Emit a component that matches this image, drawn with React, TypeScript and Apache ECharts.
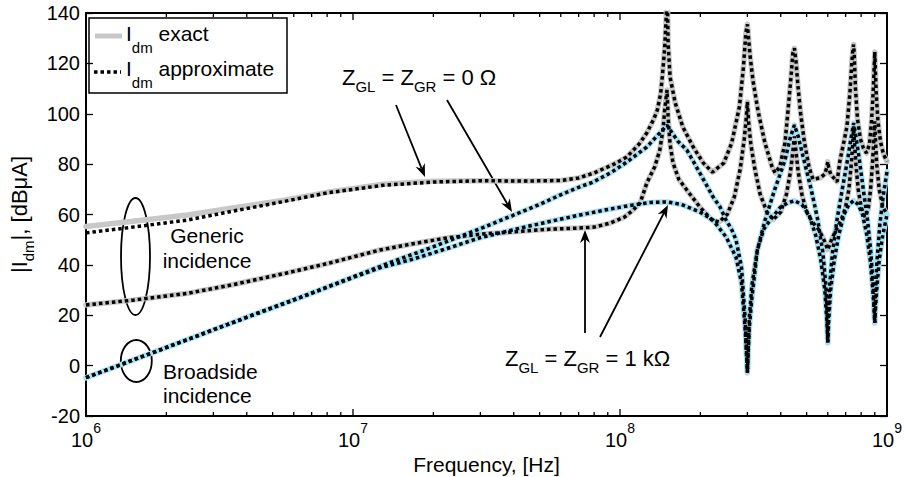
import React, { useEffect, useRef } from "react";
import * as echarts from "echarts";

const FONT = '"Liberation Sans", Arial, Helvetica, sans-serif';

// Frequency in MHz, level in dBµA
const genericZ0Exact: [number, number][] = [
  [1, 55.2], [1.5, 57.3], [2.4, 59.8], [3.5, 62.5], [5.6, 65.8], [8, 68.8], [13, 72.0], [20, 73.2],
  [30, 73.4], [45, 73.3], [60, 73.5], [70, 74.5], [80, 76.5], [95, 80], [106, 82.8], [118, 88],
  [126, 92.4], [134, 98], [138, 101.5], [142, 108], [144, 114.6], [147, 126], [149.2, 140], [150, 150],
  [150.8, 140], [151.4, 128], [154, 114.6], [161, 104.3], [172, 94.7], [188, 86.8], [205, 80.5], [222, 76.8],
  [245, 80.5], [262, 88.4], [280, 102.7], [290, 118.6], [296, 132], [300, 135.5], [303, 130], [307, 123],
  [315, 113], [329, 101], [349, 88.4], [371, 79], [381, 76.5], [397, 79], [415, 88.4], [426, 101.5],
  [437, 114.6], [444, 124], [450, 126], [456, 121], [463, 112], [475, 100], [490, 89], [510, 79],
  [528, 74], [560, 74.5], [585, 76], [596, 79], [600, 81], [604, 79], [615, 76], [650, 73],
  [667, 81.6], [690, 89], [708, 95], [726, 108], [739, 121], [746, 126], [750, 127.5], [754, 123],
  [762, 110], [775, 98], [795, 90], [815, 86.5], [838, 84.4], [860, 88], [875, 97], [887, 108],
  [895, 118], [900, 124.5], [904, 118], [911, 108], [925, 97], [945, 89], [970, 84], [1000, 81],
];

// Approximation for the generic, 0 ohm case below 30 MHz (it joins the exact curve above)
const genericZ0ApproxLow: [number, number][] = [
  [1, 52.7], [1.5, 55], [2.4, 57.8], [3.5, 61.2], [5.6, 65.3], [8, 68.6], [13, 71.6], [20, 72.9],
];

const genericZ1kExact: [number, number][] = [
  [1, 24.1], [1.5, 26], [2.4, 28.7], [3.5, 32], [5.6, 36.7], [8, 40.5], [12.6, 45.9], [17, 48.5],
  [22.5, 50.7], [30, 52.2], [40, 53.1], [55, 54.2], [70, 54.6], [80, 55], [92, 56.6], [104, 59],
  [112, 61.8], [119, 64.6], [126, 72.5], [135, 79], [141, 85.6], [145, 94], [147, 101.5], [150, 109.4],
  [151.5, 98], [154, 88], [158, 80.5], [166, 74], [178, 69.7], [199, 63], [221, 57.8], [235, 57],
  [252, 60], [268, 67], [282, 78], [292, 90], [297, 98], [300, 104.7], [303, 97], [309, 88],
  [320, 78], [335, 68], [355, 61], [375, 58], [400, 61], [420, 68], [435, 77], [444, 85],
  [450, 91], [456, 85], [465, 77], [480, 68], [500, 61], [525, 57], [555, 54], [580, 50],
  [600, 46], [620, 50], [645, 54], [675, 58], [700, 63], [720, 70], [735, 80], [745, 89],
  [750, 95], [755, 89], [765, 80], [780, 70], [800, 63], [825, 59], [850, 62], [868, 70],
  [882, 80], [893, 90], [900, 97], [905, 90], [915, 80], [935, 70], [965, 63], [1000, 60],
];

const broadZ0Exact: [number, number][] = [
  [1, -4.8], [2, 7.2], [4, 19.2], [6.33, 27], [10, 35.2], [13.3, 40.3], [20, 47.2], [30, 54.4],
  [39.4, 59.5], [50, 64], [59.6, 67.7], [70.8, 71], [79, 72.8], [92, 76.5], [106, 80.8], [126, 86.8],
  [141, 92.4], [150, 95.5], [154, 93.6], [165, 89], [178, 85.6], [199, 76.5], [223, 67], [237, 63],
  [249, 58], [262, 54], [272, 49.9], [285, 39.2], [294, 19.3], [300, -2.9], [305, 19], [312, 32],
  [327, 46], [350, 58], [380, 70], [415, 81.6], [435, 90.8], [450, 95.5], [465, 91], [485, 83],
  [520, 70], [550, 58], [575, 45], [590, 32], [597, 20], [600, 9.4], [603, 20], [610, 32],
  [625, 45], [650, 58], [680, 70], [715, 83], [735, 91], [750, 96.3], [765, 91], [785, 83],
  [815, 70], [845, 58], [870, 45], [888, 32], [896, 22], [900, 17], [904, 25], [915, 40],
  [940, 56], [970, 68], [1000, 77],
];

const broadZ1kExact: [number, number][] = [
  [1, -4.8], [2, 7.2], [4, 19.2], [6.33, 27], [10, 35], [12.6, 38.8], [16.8, 42.3], [22.5, 46.5],
  [30, 50.8], [40, 54], [55, 57.3], [70.8, 59.8], [90, 62], [112, 63.8], [130, 64.8], [150, 65],
  [170, 64], [199, 61], [223, 57.8], [250, 51], [272, 43], [285, 33], [294, 15], [300, -2.5],
  [305, 15], [312, 27], [327, 46], [345, 54], [366, 58], [400, 63], [423, 64.5], [450, 65.5],
  [480, 64], [510, 60], [540, 52], [565, 42], [585, 30], [595, 18], [600, 9], [605, 18],
  [615, 30], [635, 42], [660, 52], [690, 60], [720, 64], [750, 65.5], [780, 64], [810, 60],
  [840, 52], [865, 42], [885, 30], [895, 22], [900, 17], [905, 22], [915, 30], [935, 42],
  [965, 52], [1000, 60],
];

const xMajorTicks = [1e6, 1e7, 1e8, 1e9];
const xMinorTicks = [
  2e6, 3e6, 4e6, 5e6, 6e6, 7e6, 8e6, 9e6,
  2e7, 3e7, 4e7, 5e7, 6e7, 7e7, 8e7, 9e7,
  2e8, 3e8, 4e8, 5e8, 6e8, 7e8, 8e8, 9e8,
];
const yMin = -20;
const yMax = 140;
const yStep = 20;

const GRAY = "#c8c8c8";
const CYAN = "#a3e2f7";

const toHz = (pts: [number, number][]) => pts.map(([f, v]) => [f * 1e6, v]);

function arrow(x1: number, y1: number, x2: number, y2: number) {
  const dx = x2 - x1;
  const dy = y2 - y1;
  const L = Math.hypot(dx, dy);
  const ux = dx / L;
  const uy = dy / L;
  const px = -uy;
  const py = ux;
  const hl = 13;
  const hw = 5;
  const notch = 4;
  const bx = x2 - ux * hl;
  const by = y2 - uy * hl;
  const nx = x2 - ux * (hl - notch);
  const ny = y2 - uy * (hl - notch);
  return [
    { type: "line", shape: { x1, y1, x2: nx, y2: ny }, style: { stroke: "#000", lineWidth: 1.8 } },
    {
      type: "polygon",
      shape: { points: [[x2, y2], [bx + px * hw, by + py * hw], [nx, ny], [bx - px * hw, by - py * hw]] },
      style: { fill: "#000" },
    },
  ];
}

export default function App() {
  const ref = useRef<HTMLDivElement>(null);

  useEffect(() => {
    if (!ref.current) return;
    const chart = echarts.init(ref.current, null, { renderer: "svg" });

    const g0Approx = [...genericZ0ApproxLow, ...genericZ0Exact.filter(([f]) => f >= 30)];

    const xBase: any = {
      type: "log",
      logBase: 10,
      min: 1e6,
      max: 1e9,
      gridIndex: 0,
      splitLine: { show: false },
      minorTick: { show: false },
    };
    const axisLineStyle = { show: true, onZero: false, lineStyle: { color: "#000", width: 2 } };
    const tickStyle = { color: "#000", width: 1.3 };

    const annRich = {
      s: { fontSize: 15, fontFamily: FONT, fill: "#000", color: "#000", padding: [18, 0, 0, 0] },
    };
    const legRich = {
      s: { fontSize: 15, fontFamily: FONT, fill: "#000", color: "#000", padding: [28, 0, 0, 0] },
    };

    const exactSeries = (data: [number, number][], color: string) => ({
      type: "line",
      xAxisIndex: 0,
      yAxisIndex: 0,
      data: toHz(data),
      showSymbol: false,
      symbol: "none",
      silent: true,
      clip: true,
      lineStyle: { color, width: 5.5, type: "solid", cap: "round", join: "round" },
    });
    const approxSeries = (data: [number, number][]) => ({
      type: "line",
      xAxisIndex: 0,
      yAxisIndex: 0,
      data: toHz(data),
      showSymbol: false,
      symbol: "none",
      silent: true,
      clip: true,
      lineStyle: { color: "#000", width: 3.5, type: [3.5, 3], cap: "butt" },
    });

    // x ticks (major and minor) drawn inward on the bottom and top edges through the log scale
    const tickData = [
      ...xMajorTicks.map((v) => [v, 1]),
      ...xMinorTicks.map((v) => [v, 0]),
    ];
    const tickSeries = {
      type: "custom",
      xAxisIndex: 0,
      yAxisIndex: 0,
      silent: true,
      clip: false,
      z: 20,
      data: tickData,
      renderItem: (_params: any, api: any) => {
        const v = api.value(0);
        const len = api.value(1) ? 7 : 4;
        const pb = api.coord([v, yMin]);
        const pt = api.coord([v, yMax]);
        return {
          type: "group",
          children: [
            {
              type: "line",
              shape: { x1: pb[0], y1: pb[1], x2: pb[0], y2: pb[1] - len },
              style: { stroke: "#000", lineWidth: 1.3 },
            },
            {
              type: "line",
              shape: { x1: pt[0], y1: pt[1], x2: pt[0], y2: pt[1] + len },
              style: { stroke: "#000", lineWidth: 1.3 },
            },
          ],
        };
      },
    };

    const option: any = {
      animation: false,
      backgroundColor: "#fff",
      grid: { left: 86, right: 18, top: 13, bottom: 61, outerBoundsMode: "none", containLabel: false },
      xAxis: [
        {
          ...xBase,
          position: "bottom",
          axisLine: axisLineStyle,
          axisTick: { show: false },
          axisLabel: {
            show: true,
            customValues: xMajorTicks,
            margin: 5,
            formatter: (v: number) => `{b|10}{p|${Math.round(Math.log10(v))}}`,
            rich: {
              b: { fontSize: 20, fontFamily: FONT, color: "#000" },
              p: { fontSize: 14, fontFamily: FONT, color: "#000", padding: [0, 0, 23, 0] },
            },
          },
          name: "Frequency, [Hz]",
          nameLocation: "middle",
          nameGap: 34,
          nameTextStyle: { fontSize: 21, fontFamily: FONT, color: "#000" },
        },
        {
          ...xBase,
          position: "top",
          axisLine: axisLineStyle,
          axisTick: { show: false },
          axisLabel: { show: false },
        },
      ],
      yAxis: [
        {
          type: "value",
          min: yMin,
          max: yMax,
          interval: yStep,
          position: "left",
          axisLine: axisLineStyle,
          axisTick: { show: true, inside: true, length: 7, lineStyle: tickStyle },
          axisLabel: { fontSize: 20, fontFamily: FONT, color: "#000", margin: 6 },
          splitLine: { show: false },
          name: "|I{s|dm}|, [dBμA]",
          nameLocation: "middle",
          nameRotate: 90,
          nameGap: 46,
          nameTextStyle: {
            fontSize: 22,
            fontFamily: FONT,
            color: "#000",
            rich: { s: { fontSize: 15, fontFamily: FONT, color: "#000", padding: [18, 0, 0, 0] } },
          },
        },
        {
          type: "value",
          min: yMin,
          max: yMax,
          interval: yStep,
          position: "right",
          axisLine: axisLineStyle,
          axisTick: { show: true, inside: true, length: 7, lineStyle: tickStyle },
          axisLabel: { show: false },
          splitLine: { show: false },
        },
      ],
      series: [
        exactSeries(genericZ0Exact, GRAY),
        exactSeries(genericZ1kExact, GRAY),
        exactSeries(broadZ0Exact, CYAN),
        exactSeries(broadZ1kExact, CYAN),
        approxSeries(g0Approx),
        approxSeries(genericZ1kExact),
        approxSeries(broadZ0Exact),
        approxSeries(broadZ1kExact),
        tickSeries,
      ],
      graphic: [
        {
          type: "group",
          z: 100,
          children: [
            // legend
            {
              type: "rect",
              shape: { x: 89, y: 18, width: 198, height: 75 },
              style: { fill: "#fff", stroke: "#000", lineWidth: 1.5 },
            },
            { type: "line", shape: { x1: 95, y1: 36, x2: 122, y2: 36 }, style: { stroke: GRAY, lineWidth: 5 } },
            {
              type: "line",
              shape: { x1: 94, y1: 72, x2: 121, y2: 72 },
              style: { stroke: "#000", lineWidth: 3.5, lineDash: [3.5, 3] },
            },
            {
              type: "text",
              x: 126,
              y: 33,
              style: {
                text: "I{s|dm} exact",
                fontSize: 21,
                fontFamily: FONT,
                fill: "#000",
                rich: legRich,
                align: "left",
                verticalAlign: "middle",
              },
            },
            {
              type: "text",
              x: 126,
              y: 68,
              style: {
                text: "I{s|dm} approximate",
                fontSize: 21,
                fontFamily: FONT,
                fill: "#000",
                rich: legRich,
                align: "left",
                verticalAlign: "middle",
              },
            },
            // ellipses and incidence labels
            {
              type: "ellipse",
              shape: { cx: 135.5, cy: 256.5, rx: 14.5, ry: 58.5 },
              style: { fill: "none", stroke: "#000", lineWidth: 1.8 },
            },
            {
              type: "ellipse",
              shape: { cx: 136.3, cy: 361, rx: 15.5, ry: 21 },
              style: { fill: "none", stroke: "#000", lineWidth: 1.8 },
            },
            {
              type: "text",
              x: 207,
              y: 223,
              style: {
                text: "Generic\nincidence",
                fontSize: 21,
                lineHeight: 25,
                fontFamily: FONT,
                fill: "#000",
                align: "center",
                verticalAlign: "top",
              },
            },
            {
              type: "text",
              x: 163,
              y: 359,
              style: {
                text: "Broadside\nincidence",
                fontSize: 21,
                lineHeight: 24,
                fontFamily: FONT,
                fill: "#000",
                align: "left",
                verticalAlign: "top",
              },
            },
            // impedance annotations
            {
              type: "text",
              x: 342,
              y: 77,
              style: {
                text: "Z{s|GL} = Z{s|GR} = 0 Ω",
                fontSize: 22,
                fontFamily: FONT,
                fill: "#000",
                rich: annRich,
                align: "left",
                verticalAlign: "middle",
              },
            },
            {
              type: "text",
              x: 505,
              y: 358,
              style: {
                text: "Z{s|GL} = Z{s|GR} = 1 kΩ",
                fontSize: 22,
                fontFamily: FONT,
                fill: "#000",
                rich: annRich,
                align: "left",
                verticalAlign: "middle",
              },
            },
            ...arrow(396, 105, 425, 177),
            ...arrow(447, 100, 512, 212),
            ...arrow(585, 333, 585, 230),
            ...arrow(600, 337, 668, 205),
          ],
        },
      ],
    };

    chart.setOption(option);
    return () => chart.dispose();
  }, []);

  return (
    <div
      ref={ref}
      style={{ position: "absolute", left: 0, top: 0, width: 905, height: 477, background: "#fff" }}
    />
  );
}
